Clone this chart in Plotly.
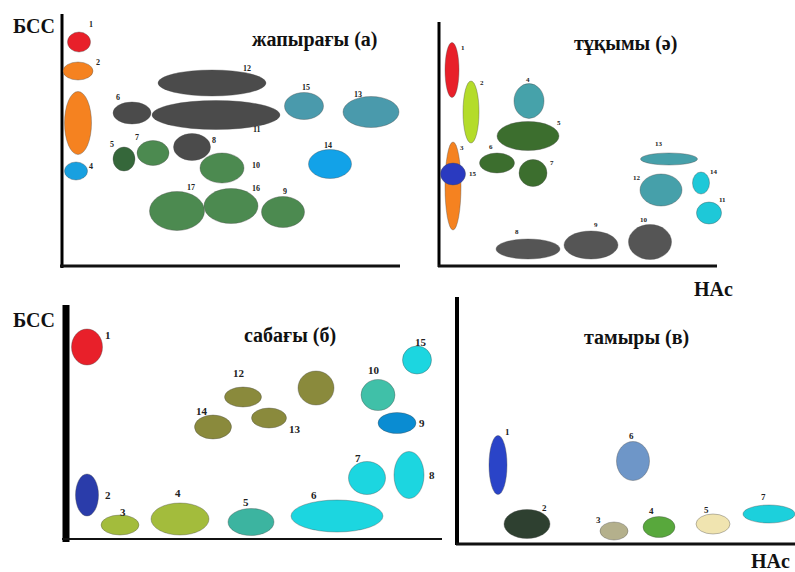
import plotly.graph_objects as go

FIG_W, FIG_H = 795, 572
SERIF = "Times New Roman, Liberation Serif, serif"

# ---------------- жапырағы (а) : leaf ----------------
leaf_id = [1, 2, 3, 4, 5, 6, 7, 8, 9, 10, 11, 12, 13, 14, 15, 16, 17]
leaf_hac = [17, 16, 16, 14, 62, 70, 91, 130, 221, 160, 154, 150, 309, 268, 242, 169, 115]
leaf_bss = [224, 195, 143, 95, 107, 153, 113, 119, 54, 98, 151, 183, 154, 102, 160, 60, 55]
leaf_dhac = [23, 30, 27, 23, 22, 38, 32, 37, 43, 44, 128, 108, 56, 43, 39, 54, 55]
leaf_dbss = [20, 18, 63, 18, 24, 22, 25, 27, 31, 30, 29, 26, 31, 29, 27, 35, 39]
leaf_lab_x = [29, 36, None, 29, 50, 56, 75, 152, 223, 194, 195, 185, 296, 266, 244, 194, 129]
leaf_lab_y = [242, 204, None, 100, 122, 169, 129, 126, 75, 101, 137, 198, 172, 121, 179, 78, 79]

# ---------------- тұқымы (ә) : seed ----------------
seed_id = [1, 2, 3, 4, 5, 6, 7, 8, 9, 10, 11, 12, 13, 14, 15]
seed_hac = [13, 32, 14, 90, 89, 58, 94, 89, 152, 211, 270, 222, 230, 262, 14]
seed_bss = [196, 154, 80, 165, 130, 103, 93, 17, 21, 24, 53, 76, 107, 83, 92]
seed_dhac = [14, 16, 16, 30, 62, 35, 28, 64, 54, 43, 25, 42, 57, 17, 25]
seed_dbss = [55, 62, 88, 35, 29, 20, 27, 20, 28, 35, 22, 32, 12, 22, 22]
seed_lab_x = [24, 43, 23, 89, 120, 52, 113, 78, 157, 205, 283, 198, 220, 275, 34]
seed_lab_y = [218, 183, 118, 186, 143, 119, 103, 34, 41, 46, 66, 88, 122, 94, 92]

# ---------------- сабағы (б) : stem ----------------
stem_id = [1, 2, 3, 4, 5, 6, 7, 8, 9, 10, 11, 12, 13, 14, 15]
stem_hac = [21, 21, 54, 114, 185, 271, 301, 343, 331, 312, 250, 177, 203, 147, 351]
stem_bss = [192, 44, 14, 20, 17, 23, 61, 64, 116, 144, 151, 142, 121, 112, 179]
stem_dhac = [31, 23, 38, 58, 46, 92, 37, 30, 38, 34, 36, 37, 35, 37, 29]
stem_dbss = [36, 42, 20, 32, 27, 32, 33, 47, 21, 31, 34, 20, 20, 24, 28]
stem_lab_x = [42, 42, 57, 112, 180, 248, 292, 366, 356, 308, None, 173, 229, 136, 355]
stem_lab_y = [204, 44, 27, 46, 37, 44, 81, 64, 116, 169, None, 166, 110, 128, 197]

# ---------------- тамыры (в) : root ----------------
root_id = [1, 2, 3, 4, 5, 6, 7]
root_hac = [41, 70, 157, 202, 256, 176, 312]
root_bss = [79, 20, 13, 17, 20, 83, 30]
root_dhac = [18, 46, 28, 32, 34, 33, 52]
root_dbss = [59, 29, 18, 21, 20, 39, 18]
root_lab_x = [50, 87, 141, 194, 249, 174, 306]
root_lab_y = [112, 36, 24, 33, 34, 108, 47]

# fill colours of the spots
RED, ORANGE, GREY = "#e8202a", "#f58220", "#4b4b4b"
leaf_colors = [RED, ORANGE, ORANGE, "#18a0e0", "#35673a", GREY, "#4c8a50", GREY,
               "#4c8a50", "#4c8a50", GREY, GREY, "#4a9aac", "#12a2e8", "#4a9aac",
               "#4c8a50", "#4c8a50"]
seed_colors = [RED, "#b4dc2a", ORANGE, "#46a2aa", "#3c6e2e", "#3c6e2e", "#3c6e2e",
               "#555555", "#555555", "#555555", "#1ec8d8", "#46a0aa", "#46a0aa",
               "#1ec8d8", "#2a3ac0"]
stem_colors = [RED, "#2a3caa", "#a3bc3c", "#a3bc3c", "#3cb4a0", "#1cd6e0", "#1cd6e0",
               "#1cd6e0", "#0a8cd2", "#40c0a8", "#8a8a3c", "#8a8a3c", "#8a8a3c",
               "#8a8a3c", "#1cd6e0"]
root_colors = ["#2a44c8", "#2e4030", "#b4b08c", "#58a83c", "#f0e4b0", "#6e96c8", "#1cd0dc"]

fig = go.Figure()
shapes, annotations = [], []


def add_panel(k, region, origin, ids, hac, bss, dh, db, colors, lab_x, lab_y,
              lab_size, vline, hline):
    xa, xb, ya, yb = region
    x0, y0 = origin
    ax_x, ax_y = f"xaxis{k}", f"yaxis{k}"
    ref_x, ref_y = f"x{k}", f"y{k}"
    fig.layout[ax_x] = dict(domain=[xa / FIG_W, xb / FIG_W], range=[xa - x0, xb - x0],
                            visible=False, anchor=ref_y, fixedrange=True)
    fig.layout[ax_y] = dict(domain=[(FIG_H - yb) / FIG_H, (FIG_H - ya) / FIG_H],
                            range=[y0 - yb, y0 - ya], visible=False, anchor=ref_x,
                            fixedrange=True)
    # invisible trace so the subplot exists
    fig.add_trace(go.Scatter(x=hac, y=bss, mode="markers", marker=dict(opacity=0),
                             xaxis=ref_x, yaxis=ref_y, hoverinfo="skip",
                             showlegend=False))
    # axis lines
    vx, vy0, vy1, vw = vline
    hy, hx0, hx1, hw = hline
    shapes.append(dict(type="line", xref=ref_x, yref=ref_y, x0=vx, x1=vx, y0=vy0, y1=vy1,
                       line=dict(color="black", width=vw), layer="above"))
    shapes.append(dict(type="line", xref=ref_x, yref=ref_y, x0=hx0, x1=hx1, y0=hy, y1=hy,
                       line=dict(color="#111111", width=hw), layer="above"))
    for i, n in enumerate(ids):
        shapes.append(dict(type="circle", xref=ref_x, yref=ref_y,
                           x0=hac[i] - dh[i] / 2, x1=hac[i] + dh[i] / 2,
                           y0=bss[i] - db[i] / 2, y1=bss[i] + db[i] / 2,
                           fillcolor=colors[i],
                           line=dict(color="rgba(70,70,70,0.45)", width=0.8)))
        if lab_x[i] is not None:
            annotations.append(dict(x=lab_x[i], y=lab_y[i], xref=ref_x, yref=ref_y,
                                    text=f"<b>{n}</b>", showarrow=False,
                                    font=dict(family=SERIF, size=lab_size, color="#222222")))


add_panel("", (55, 410, 5, 275), (62, 266), leaf_id, leaf_hac, leaf_bss, leaf_dhac,
          leaf_dbss, leaf_colors, leaf_lab_x, leaf_lab_y, 8,
          (0, -2, 252, 3), (0, -2, 338, 3))
add_panel("2", (425, 745, 5, 275), (439, 266), seed_id, seed_hac, seed_bss, seed_dhac,
          seed_dbss, seed_colors, seed_lab_x, seed_lab_y, 7,
          (0, -1, 244, 3), (0, -1, 278, 3))
add_panel("3", (55, 450, 290, 555), (66, 539), stem_id, stem_hac, stem_bss, stem_dhac,
          stem_dbss, stem_colors, stem_lab_x, stem_lab_y, 11,
          (0, -3, 234, 7), (0, -4, 376, 2))
add_panel("4", (445, 795, 290, 560), (457, 544), root_id, root_hac, root_bss, root_dhac,
          root_dbss, root_colors, root_lab_x, root_lab_y, 9,
          (0, -1, 247, 4), (0, -1, 338, 3))

# axis captions and panel titles
texts = [
    ("БСС", 34, 26, 20),
    ("жапырағы (а)", 315, 40, 20),
    ("тұқымы (ә)", 625, 43, 20),
    ("HAc", 713, 289, 20),
    ("БСС", 34, 320, 20),
    ("сабағы (б)", 290, 335, 20),
    ("тамыры (в)", 636, 337, 20),
    ("HAc", 770, 561, 20),
]
for t, px, py, sz in texts:
    annotations.append(dict(x=px / FIG_W, y=1 - py / FIG_H, xref="paper", yref="paper",
                            text=f"<b>{t}</b>", showarrow=False, xanchor="center",
                            yanchor="middle",
                            font=dict(family=SERIF, size=sz, color="#111111")))

fig.update_layout(width=FIG_W, height=FIG_H, margin=dict(l=0, r=0, t=0, b=0),
                  paper_bgcolor="white", plot_bgcolor="rgba(0,0,0,0)",
                  shapes=shapes, annotations=annotations, showlegend=False)

fig.write_html("out.html")
